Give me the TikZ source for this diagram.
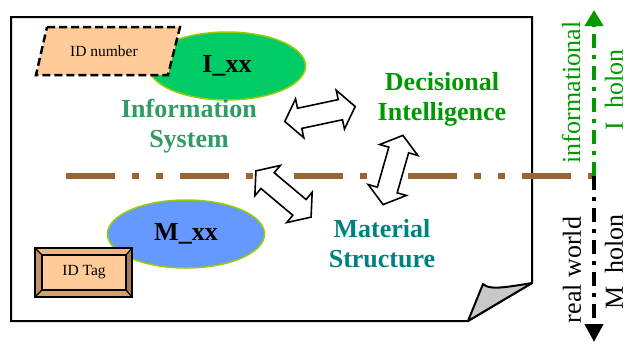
\documentclass[tikz,border=0pt]{standalone}
\usepackage{fontspec}
\setmainfont{Liberation Serif}
\usetikzlibrary{shapes.arrows,shapes.geometric,arrows.meta}
\definecolor{ixgreen}{HTML}{00CC66}
\definecolor{mxblue}{HTML}{6699FF}
\definecolor{ellborder}{HTML}{99CC00}
\definecolor{infosys}{HTML}{339966}
\definecolor{decgreen}{HTML}{009900}
\definecolor{matteal}{HTML}{008080}
\definecolor{brownline}{HTML}{996633}
\definecolor{peach}{HTML}{FFCC99}
\definecolor{foldgray}{HTML}{C8C8C8}
\definecolor{tagtop}{HTML}{E8B888}
\definecolor{tagleft}{HTML}{C09468}
\definecolor{tagright}{HTML}{A07C58}
\definecolor{tagbottom}{HTML}{CFA274}
\begin{document}
\begin{tikzpicture}[x=1pt,y=-1pt,
  big/.style={font=\fontsize{26}{30}\selectfont\bfseries, align=center, inner sep=0},
  side/.style={font=\fontsize{26}{30}\selectfont, rotate=90, inner sep=0},
  holon/.style={ellipse, draw=ellborder, line width=1.5, minimum width=157, minimum height=68, inner sep=0, font=\fontsize{26}{30}\selectfont\bfseries},
  dbl/.style={double arrow, draw=black, fill=white, line width=1.6, minimum height=72, inner xsep=0, inner ysep=9.5, double arrow head extend=9.5, double arrow tip angle=105},
  small/.style={font=\fontsize{15.5}{18}\selectfont, inner sep=0}]
\useasboundingbox (0,0) rectangle (629,343);
% page
\draw[line width=2, fill=white, line join=miter] (11,17) -- (532,17) -- (532,283) -- (468,321) -- (11,321) -- cycle;
\draw[line width=2, fill=foldgray, line join=round] (468,321) -- (483,284) .. controls (489,289) and (497,289) .. (532,283) -- cycle;
% holons
\node[holon, fill=ixgreen] (ixx) at (227,66) {I\_xx};
\node[holon, fill=mxblue] (mxx) at (186,234) {M\_xx};
% ID number
\draw[line width=2.5, dash pattern=on 8 off 4, fill=peach] (47,27) -- (180,27) -- (168,75) -- (36,75) -- cycle;
\node[small] (idnum) at (104,51) {ID number};
% ID tag
\fill[tagtop] (35,248) -- (132,248) -- (126,255) -- (42,255) -- cycle;
\fill[tagright] (132,248) -- (132,297) -- (126,290) -- (126,255) -- cycle;
\fill[tagbottom] (132,297) -- (35,297) -- (42,290) -- (126,290) -- cycle;
\fill[tagleft] (35,297) -- (35,248) -- (42,255) -- (42,290) -- cycle;
\draw[line width=1.2] (35,248) -- (42,255) (132,248) -- (126,255) (132,297) -- (126,290) (35,297) -- (42,290);
\draw[line width=2] (35,248) rectangle (132,297);
\node[small, draw, fill=peach, line width=1.2, minimum width=84, minimum height=35] (idtag) at (84,272.5) {ID Tag};
% texts
\node[big, text=infosys] (is) at (189,126) {Information\\System};
\node[big, text=decgreen] (di) at (442,99) {Decisional\\Intelligence};
\node[big, text=matteal] (ms) at (382,244) {Material\\Structure};
% boundary line
\coordinate (bl) at (66,176);
\coordinate (br) at (596,176);
\draw[brownline, line width=6, dash pattern=on 49 off 17 on 7 off 17 on 7 off 17] (bl) -- (br);
% double arrows
\node[dbl, rotate=12] (a1) at (320,114) {};
\node[dbl, rotate=74] (a2) at (393,170) {};
\node[dbl, rotate=-40] (a3) at (283.5,194) {};
% holon axis
\coordinate (vm) at (594,176);
\coordinate (vt) at (594,10);
\coordinate (vb) at (594,342);
\draw[decgreen, line width=4, dash pattern=on 14 off 7 on 4 off 7, -{Triangle[length=16,width=18]}] (vm) -- (vt);
\draw[black, line width=4, dash pattern=on 14 off 7 on 4 off 7, -{Triangle[length=18,width=18]}] (vm) -- (vb);
\node[side, text=decgreen] (inf) at (571,92.5) {informational};
\node[side, text=decgreen] (ih) at (614,90) {I~~holon};
\node[side] (rw) at (572,270) {real world};
\node[side] (mh) at (614,262) {M~~holon};
\end{tikzpicture}
\end{document}
